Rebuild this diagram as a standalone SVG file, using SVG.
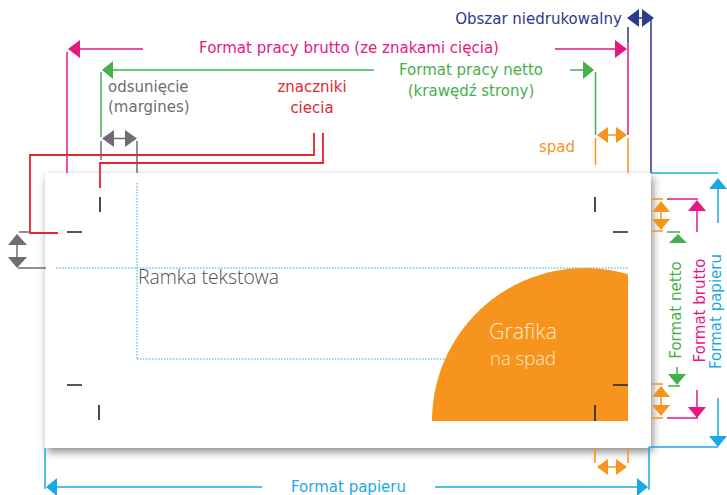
<svg xmlns="http://www.w3.org/2000/svg" width="727" height="495" viewBox="0 0 727 495">
<defs>
<filter id="sh" x="-10%" y="-20%" width="120%" height="140%">
<feDropShadow dx="2" dy="4" stdDeviation="4" flood-color="#000" flood-opacity="0.45"/>
</filter>
<style>
.lbl{font-family:"DejaVu Sans","Liberation Sans",sans-serif;font-size:15px}
.thin{font-family:"Open Sans","Noto Sans",sans-serif;font-weight:300}
.pk{stroke:#e6177f;fill:none;stroke-width:1.5}
.pkf{fill:#e6177f}
.gn{stroke:#45b04a;fill:none;stroke-width:1.5}
.gnf{fill:#45b04a}
.rd{stroke:#e2262f;fill:none;stroke-width:1.8}
.rdf{fill:#e2262f}
.gy{stroke:#6d6e71;fill:none;stroke-width:1.5}
.gyf{fill:#6d6e71}
.nv{stroke:#2e3a8c;fill:none;stroke-width:1.5}
.nvf{fill:#2e3a8c}
.or{stroke:#f7941d;fill:none;stroke-width:1.5}
.orf{fill:#f7941d}
.bl{stroke:#1ba9e6;fill:none;stroke-width:1.5}
.blf{fill:#1ba9e6}
.dot{stroke:#29abe2;fill:none;stroke-width:1;stroke-dasharray:1.5 1.5}
.crop{stroke:#231f20;fill:none;stroke-width:1.6}
</style>
</defs>
<rect width="727" height="495" fill="#fff"/>

<g id="paper">
<rect x="45" y="173" width="606" height="275" fill="#fff" filter="url(#sh)"/>
</g>

<g id="text-frame">
<path class="dot" d="M56,268H628M137,183V359M137,359H628"/>
<text class="thin" x="138" y="284" font-size="19.5" fill="#4d4d4f" textLength="141" lengthAdjust="spacingAndGlyphs">Ramka tekstowa</text>
</g>

<g id="graphic">
<path class="orf" d="M432,421A153,153 0 0 1 628,274.2L628,421Z"/>
<text class="thin" x="523" y="338.5" font-size="22" fill="#fde7cc" text-anchor="middle" textLength="68" lengthAdjust="spacingAndGlyphs">Grafika</text>
<text class="thin" x="523" y="364.5" font-size="18" fill="#fde7cc" text-anchor="middle" textLength="66" lengthAdjust="spacingAndGlyphs">na spad</text>
</g>

<g id="crop-marks">
<path class="crop" d="M100,197V212M67,232H82M595,197V212M613,232H628M67,385H82M99,405V420M613,385H628M595,405V421"/>
</g>

<g id="connectors">
<!-- pink: format brutto -->
<path class="pk" d="M67,52V173M80,49H143M555,49H617M628,43V135M667,199H698M697,211V232M697,390V407M667,418H698"/>
<polygon class="pkf" points="68,49 80,40 80,58"/>
<polygon class="pkf" points="627,49 615,40 615,58"/>
<polygon class="pkf" points="697,200 688,211 706,211"/>
<polygon class="pkf" points="697,418 688,407 706,407"/>
<!-- green: format netto -->
<path class="gn" d="M101,72V137M113,70H374M570,70H584M595.5,72V135M667,232H680M668,386H680M677,367V374"/>
<polygon class="gnf" points="102,70 113,61 113,79"/>
<polygon class="gnf" points="594,70 583,61 583,79"/>
<polygon class="gnf" points="678,234 669,243 687,243"/>
<polygon class="gnf" points="677,385 668,374 686,374"/>
<!-- gray: margins -->
<path class="gy" d="M101,141V160M137,141V173M114,138.5H125M19,232H30M17,245V257M18,268H46"/>
<polygon class="gyf" points="102,138.5 114,130 114,147"/>
<polygon class="gyf" points="137,138.5 125,130 125,147"/>
<polygon class="gyf" points="17,234 8,245 27,245"/>
<polygon class="gyf" points="17,268 8,257 27,257"/>
<!-- red: crop mark leaders -->
<path class="rd" d="M58,233H30V155H314V133M100,188V163H323V133"/>
<!-- navy: non-printable area -->
<path class="nv" d="M628,27V43M651,18V173M638,18H644"/>
<polygon class="nvf" points="627,18 639,9 639,27"/>
<polygon class="nvf" points="654,18 642,9 642,27"/>
<!-- orange: bleed -->
<path class="or" d="M595.5,138V165M628,138V173M607,135H617M652,199H663M652,231H663M661,211V220M652,384H663M652,418H663M661,396V406M595,448V463M628,448V463M607,467H617"/>
<polygon class="orf" points="597,135 608,127 608,143"/>
<polygon class="orf" points="627,135 616,127 616,143"/>
<polygon class="orf" points="661,201 652,212 670,212"/>
<polygon class="orf" points="661,230 652,219 670,219"/>
<polygon class="orf" points="661,386 652,397 670,397"/>
<polygon class="orf" points="661,416 652,405 670,405"/>
<polygon class="orf" points="597,467 608,459 608,475"/>
<polygon class="orf" points="627,467 616,459 616,475"/>
<!-- light blue: paper format -->
<path class="bl" d="M651,173H718M718,189V223M718,398V436M649,447H718M649,447V490M45,448V489M57,487H262M435,487H637"/>
<polygon class="blf" points="718,178 709,189 727,189"/>
<polygon class="blf" points="718,447 709,436 727,436"/>
<polygon class="blf" points="46,487 57,478 57,496"/>
<polygon class="blf" points="648,487 637,478 637,496"/>
</g>

<g id="labels">
<text class="lbl" x="538.5" y="24" fill="#2e3a8c" text-anchor="middle">Obszar niedrukowalny</text>
<text class="lbl" x="349" y="53" fill="#e6177f" text-anchor="middle">Format pracy brutto (ze znakami cięcia)</text>
<text class="lbl" x="471" y="75" fill="#45b04a" text-anchor="middle">Format pracy netto</text>
<text class="lbl" x="471" y="96" fill="#45b04a" text-anchor="middle">(krawędź strony)</text>
<text class="lbl" x="108" y="92" fill="#6d6e71">odsunięcie</text>
<text class="lbl" x="108" y="112" fill="#6d6e71">(margines)</text>
<text class="lbl" x="312" y="92" fill="#e2262f" text-anchor="middle">znaczniki</text>
<text class="lbl" x="312" y="113" fill="#e2262f" text-anchor="middle">ciecia</text>
<text class="lbl" x="557" y="152" fill="#f7941d" text-anchor="middle">spad</text>
<text class="lbl" x="348.5" y="492" fill="#1ba9e6" text-anchor="middle">Format papieru</text>
<text class="lbl" fill="#45b04a" text-anchor="middle" transform="translate(680.5,310) rotate(-90)">Format netto</text>
<text class="lbl" fill="#e6177f" text-anchor="middle" transform="translate(705,310.5) rotate(-90)">Format brutto</text>
<text class="lbl" fill="#1ba9e6" text-anchor="middle" transform="translate(721,311.5) rotate(-90)">Format papieru</text>
</g>
</svg>
